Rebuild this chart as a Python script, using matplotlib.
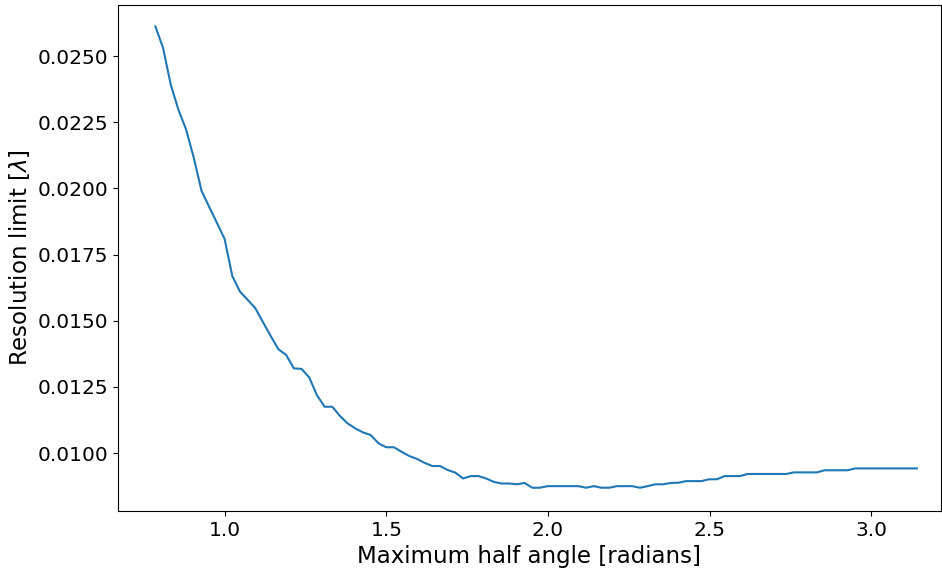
import matplotlib
matplotlib.use("Agg")
import matplotlib.pyplot as plt
import numpy as np

# half angle samples: 100 points from pi/4 to pi
angle_start = np.pi / 4
angle_stop = np.pi
n_points = 100

# resolution limit, one value per sample
resolution = [
    0.02612, 0.02531, 0.02392, 0.02297, 0.02222, 0.02115, 0.01991, 0.01930, 0.01870, 0.01809,
    0.01669, 0.01610, 0.01579, 0.01547, 0.01494, 0.01442, 0.01392, 0.01371, 0.01320, 0.01318,
    0.01286, 0.01219, 0.01175, 0.01175, 0.01140, 0.01112, 0.01093, 0.01078, 0.01068, 0.01037,
    0.01022, 0.01022, 0.01005, 0.00989, 0.00978, 0.00963, 0.00951, 0.00951, 0.00936, 0.00926,
    0.00904, 0.00913, 0.00913, 0.00904, 0.00891, 0.00885, 0.00885, 0.00882, 0.00887, 0.00869,
    0.00869, 0.00875, 0.00875, 0.00875, 0.00875, 0.00875, 0.00869, 0.00875, 0.00869, 0.00869,
    0.00875, 0.00875, 0.00875, 0.00869, 0.00875, 0.00882, 0.00882, 0.00887, 0.00888, 0.00894,
    0.00894, 0.00894, 0.00901, 0.00901, 0.00913, 0.00913, 0.00913, 0.00921, 0.00921, 0.00921,
    0.00921, 0.00921, 0.00921, 0.00927, 0.00927, 0.00927, 0.00927, 0.00935, 0.00935, 0.00935,
    0.00935, 0.00942, 0.00942, 0.00942, 0.00942, 0.00942, 0.00942, 0.00942, 0.00942, 0.00942,
]

angles = np.linspace(angle_start, angle_stop, n_points)

fig = plt.figure(figsize=(9.42, 5.72), dpi=100)
ax = fig.add_axes([0.125, 0.1066, 0.8735, 0.8847])
ax.plot(angles, resolution)
ax.set_xlim(0.669, 3.215)
ax.set_ylim(0.00781, 0.02693)
ax.set_xlabel("Maximum half angle [radians]", fontsize=16.5)
ax.set_ylabel(r"Resolution limit [$\lambda$]", fontsize=16.5)
ax.tick_params(labelsize=14.5)

fig.savefig("out.png", dpi=100)
